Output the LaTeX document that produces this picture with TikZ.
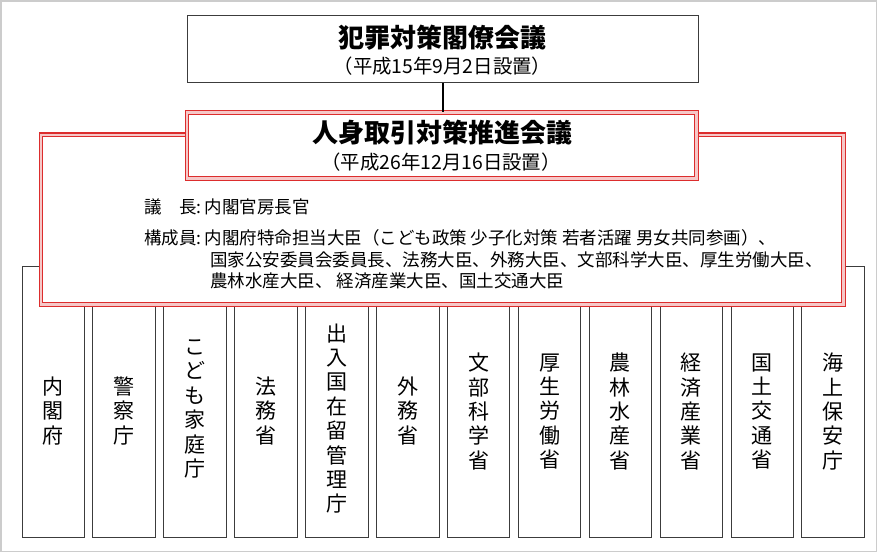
\documentclass[tikz,border=0pt]{standalone}
\usepackage{fontspec}
\newfontfamily\jp{Noto Sans CJK JP}
\definecolor{redline}{RGB}{220,45,45}
\definecolor{redgap}{RGB}{246,200,200}
\definecolor{boxline}{RGB}{60,60,60}
\tikzset{
  redbox/.style={draw=redline,double=redgap,double distance=2.4pt,line width=1.1pt,fill=white,inner sep=0},
  orgbox/.style={draw=boxline,line width=1pt,fill=white,inner sep=0},
  tate/.style={align=center,font=\jp\fontsize{21}{24.4}\selectfont,inner sep=0},
  body/.style={anchor=west,font=\jp\fontsize{17.5}{20}\selectfont,inner sep=0},
}
\begin{document}
\begin{tikzpicture}[x=1pt,y=-1pt]
\useasboundingbox (0,0) rectangle (878,553);
\draw[gray!40,line width=1.2pt] (1,1) rectangle (876.5,551.5);

%ministries
\foreach \i/\name/\y in {1/内\\閣\\府/411, 2/警\\察\\庁/411, 3/こ\\ど\\も\\家\\庭\\庁/409, 4/法\\務\\省/411, 5/出\\入\\国\\在\\留\\管\\理\\庁/418.5, 6/外\\務\\省/411, 7/文\\部\\科\\学\\省/411.5, 8/厚\\生\\労\\働\\省/411.5, 9/農\\林\\水\\産\\省/411.5, 10/経\\済\\産\\業\\省/411.5, 11/国\\土\\交\\通\\省/411.5, 12/海\\上\\保\\安\\庁/411.5}{
    \node[orgbox,minimum width=62.5pt,minimum height=271pt] (org\i) at ({53.25+(\i-1)*70.9},402.2) {};
    \node[tate] (name\i) at ({53.25+(\i-1)*70.9},\y) {\name};
}

%council
\node[redbox,minimum width=802.7pt,minimum height=169.7pt] (body) at (442.15,219.65) {};
\node[redbox,minimum width=509.5pt,minimum height=66pt] (council) at (441.75,145.5) {};
\node[draw=boxline,line width=1pt,minimum width=511pt,minimum height=67pt,inner sep=0] (top) at (442.5,49.5) {};
\draw[line width=2pt] (top.south) -- (top.south |- council.north);

\node[font=\jp\bfseries\fontsize{26}{30}\selectfont] (topTitle) at (442.5,38) {犯罪対策閣僚会議};
\node[font=\jp\fontsize{19.4}{22}\selectfont] (topDate) at (442.5,66) {（平成15年9月2日設置）};
\node[font=\jp\bfseries\fontsize{26}{30}\selectfont] (councilTitle) at (442.5,133) {人身取引対策推進会議};
\node[font=\jp\fontsize{19.4}{22}\selectfont] (councilDate) at (441,162.5) {（平成26年12月16日設置）};

%members
\node[body] (chair) at (144,207) {\makebox[3em][s]{議\hfill 長}:\hspace{3pt}内閣官房長官};
\node[body] (members) at (144,238) {構成員:\hspace{3pt}内閣府特命担当大臣（こども政策 少子化対策 若者活躍 男女共同参画）、};
\node[body] (members2) at (210,260) {国家公安委員会委員長、法務大臣、外務大臣、文部科学大臣、厚生労働大臣、};
\node[body] (members3) at (210,281) {農林水産大臣、 経済産業大臣、国土交通大臣};

\end{tikzpicture}
\end{document}
